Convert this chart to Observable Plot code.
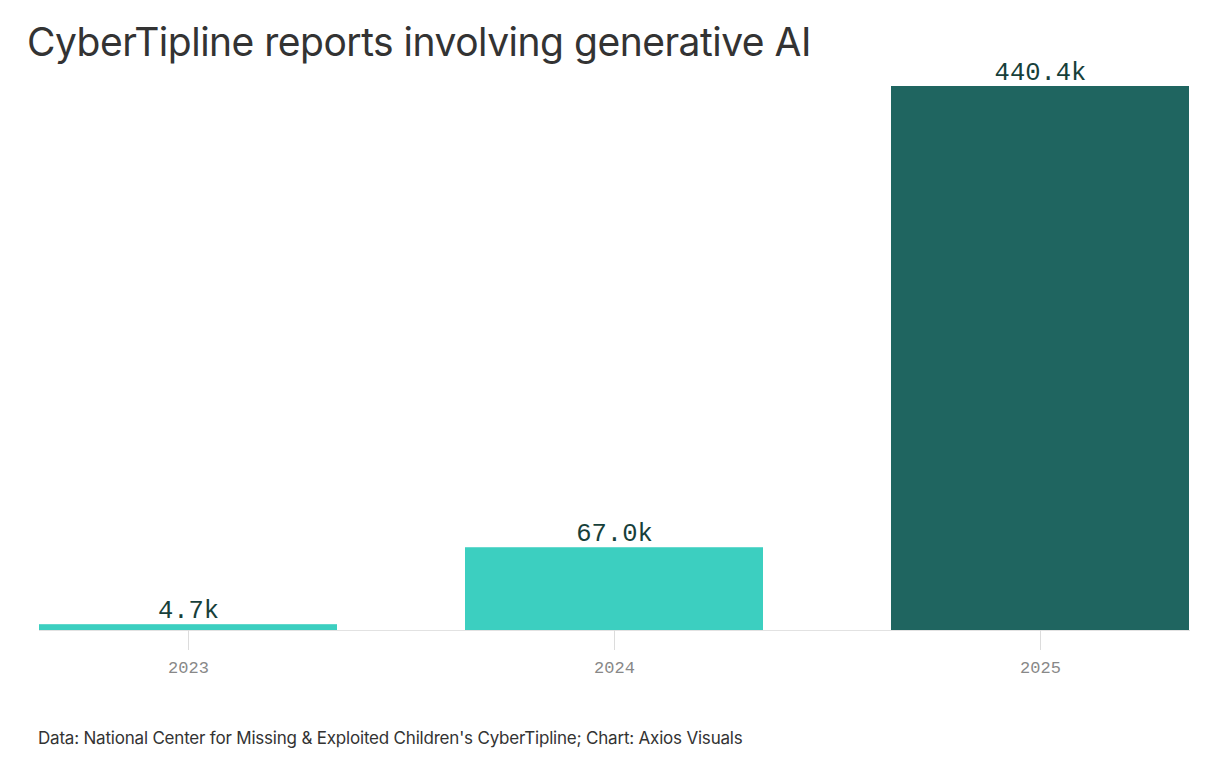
<!DOCTYPE html>
<html>
<head>
<meta charset="utf-8">
<script src="https://cdn.jsdelivr.net/npm/d3@7"></script>
<script src="https://cdn.jsdelivr.net/npm/@observablehq/plot@0.6"></script>
<style>
  body { margin: 0; background: #fff; }
  #wrap { position: relative; width: 1208px; height: 770px; }
  #title { position: absolute; left: 27px; top: 18px; margin: 0; font-family: Inter, "Noto Sans", sans-serif; font-weight: 400; font-size: 39px; letter-spacing: -0.5px; color: #333; white-space: nowrap; }
  #caption { position: absolute; left: 38px; top: 728px; font-family: Inter, "Noto Sans", sans-serif; font-size: 17px; letter-spacing: -0.2px; color: #333; white-space: nowrap; }
  #chart { position: absolute; left: 0; top: 0; }
</style>
</head>
<body>
<div id="wrap">
  <div id="chart"></div>
  <h1 id="title">CyberTipline reports involving generative AI</h1>
  <div id="caption">Data: National Center for Missing &amp; Exploited Children's CyberTipline; Chart: Axios Visuals</div>
</div>
<script>
const years = ["2023", "2024", "2025"];
const reports = [4.7, 67.0, 440.4]; // thousands
const labels = ["4.7k", "67.0k", "440.4k"];
const colors = ["#3ccfc0", "#3ccfc0", "#1f6560"];

const data = years.map((y, i) => ({year: y, value: reports[i], label: labels[i], color: colors[i]}));

const mono = "'Liberation Mono', 'DejaVu Sans Mono', monospace";

const chart = Plot.plot({
  width: 1208,
  height: 700,
  marginLeft: 39,
  marginRight: 18,
  marginTop: 86,
  marginBottom: 70,
  style: {background: "transparent", overflow: "visible"},
  x: {domain: years, paddingInner: 0.3, paddingOuter: 0, label: null},
  y: {domain: [0, 440.4], axis: null},
  marks: [
    Plot.barY(data, {x: "year", y: "value", fill: "color"}),
    Plot.ruleY([0], {stroke: "#e2e2e2", strokeWidth: 1}),
    Plot.axisX({tickSize: 20, tickPadding: 10, stroke: "#dcdcdc", fill: "#888", fontSize: 17, fontFamily: mono, tickFormat: d => d}),
    Plot.text(data, {x: "year", y: "value", text: "label", dy: -15, fill: "#173f3a", fontSize: 25.5, fontFamily: mono})
  ]
});
document.getElementById("chart").appendChild(chart);
</script>
</body>
</html>
